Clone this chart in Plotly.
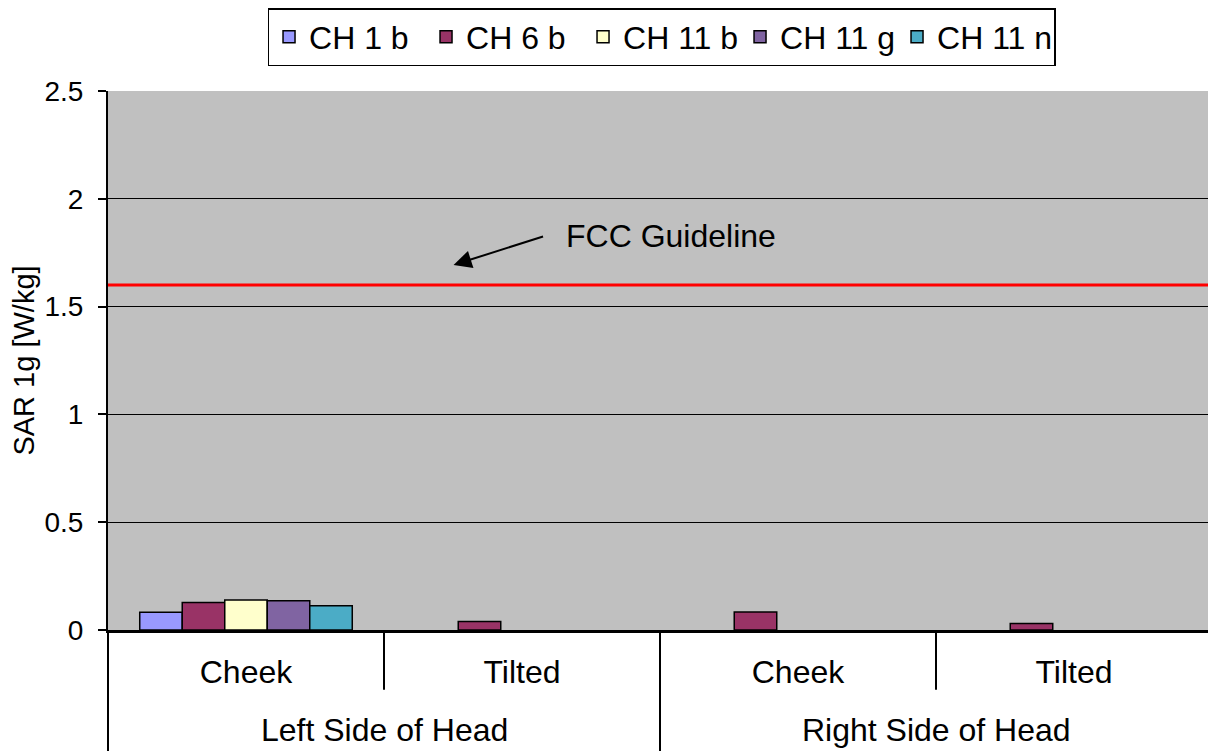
import plotly.graph_objects as go

sides = ["Left Side of Head", "Left Side of Head", "Right Side of Head", "Right Side of Head"]
positions = ["Cheek", "Tilted", "Cheek", "Tilted"]
side_labels = ["Left Side of Head", "Right Side of Head"]

series_names = ["CH 1 b", "CH 6 b", "CH 11 b", "CH 11 g", "CH 11 n"]
ch1b = [0.082, None, None, None]
ch6b = [0.128, 0.039, 0.083, 0.030]
ch11b = [0.139, None, None, None]
ch11g = [0.136, None, None, None]
ch11n = [0.113, None, None, None]
series_values = [ch1b, ch6b, ch11b, ch11g, ch11n]
series_colors = ["#9999FF", "#993366", "#FFFFCC", "#8064A2", "#4BACC6"]

fcc_limit = 1.6
fcc_arrow_head = 1.693
y_ticks = [0, 0.5, 1, 1.5, 2, 2.5]
y_ticktext = ["0", "0.5", "1", "1.5", "2", "2.5"]

FONT = "Liberation Sans, Arial, sans-serif"
x_keys = [f"{s}|{p}" for s, p in zip(sides, positions)]

fig = go.Figure()
for name, vals, col in zip(series_names, series_values, series_colors):
    fig.add_trace(go.Bar(
        name=name, x=x_keys, y=vals,
        marker=dict(color=col, line=dict(color="black", width=1.5)),
    ))

fig.add_shape(type="line", xref="paper", yref="y", x0=0, x1=1, y0=fcc_limit, y1=fcc_limit,
              line=dict(color="#FF0000", width=3))

# category dividers below the axis (inner: short, outer: full height)
n_cat = len(x_keys)
for i in range(n_cat + 1):
    xp = i / n_cat
    outer = (i % 2 == 0)
    fig.add_shape(type="line", xref="paper", yref="paper", x0=xp, x1=xp,
                  y0=0, y1=(-0.225 if outer else -0.111),
                  line=dict(color="black", width=2))

# outer group labels
for j, lab in enumerate(side_labels):
    fig.add_annotation(x=(2 * j + 1) / n_cat, xref="paper", y=-0.186, yref="paper",
                       text=lab, showarrow=False, xanchor="center", yanchor="middle",
                       font=dict(family=FONT, size=32, color="black"))

# FCC guideline arrow and label
fig.add_annotation(x=0.313, xref="paper", y=fcc_arrow_head, yref="y",
                   text="", showarrow=True, arrowhead=2, arrowsize=1.8,
                   arrowwidth=2, arrowcolor="black",
                   ax=91, ay=-29, axref="pixel", ayref="pixel")
fig.add_annotation(x=0.413, xref="paper", y=fcc_arrow_head, yref="y",
                   text="FCC Guideline", showarrow=False, xanchor="left", yanchor="middle",
                   yshift=29,
                   font=dict(family=FONT, size=32, color="black"))

fig.update_layout(
    width=1208, height=743,
    margin=dict(l=100, r=4, t=83, b=121),
    paper_bgcolor="white",
    plot_bgcolor="#C0C0C0",
    barmode="group",
    bargap=0.23,
    bargroupgap=0,
    font=dict(family=FONT, color="black"),
    showlegend=True,
    legend=dict(orientation="h", x=0.541, xref="container", xanchor="center",
                y=1.0, yref="container", yanchor="top",
                bgcolor="white", bordercolor="black", borderwidth=1.5,
                font=dict(family=FONT, size=32, color="black"),
                traceorder="normal", itemwidth=30,
                entrywidth=112, tracegroupgap=0),
    xaxis=dict(
        type="category", tickvals=x_keys, ticktext=positions,
        showline=True, linecolor="black", linewidth=3,
        showgrid=False, ticks="", ticklabelstandoff=12,
        tickfont=dict(family=FONT, size=32, color="black"),
        automargin=False,
    ),
    yaxis=dict(
        range=[0, 2.5], tickvals=y_ticks, ticktext=y_ticktext,
        showgrid=True, gridcolor="black", gridwidth=1,
        showline=True, linecolor="black", linewidth=2,
        ticks="outside", ticklen=8, tickcolor="black", tickwidth=1.5,
        ticklabelstandoff=9,
        tickfont=dict(family=FONT, size=28, color="black"),
        zeroline=False, automargin=False,
        title=dict(text="SAR 1g [W/kg]", font=dict(family=FONT, size=29, color="black"), standoff=10),
    ),
)

fig.write_html("out.html")
